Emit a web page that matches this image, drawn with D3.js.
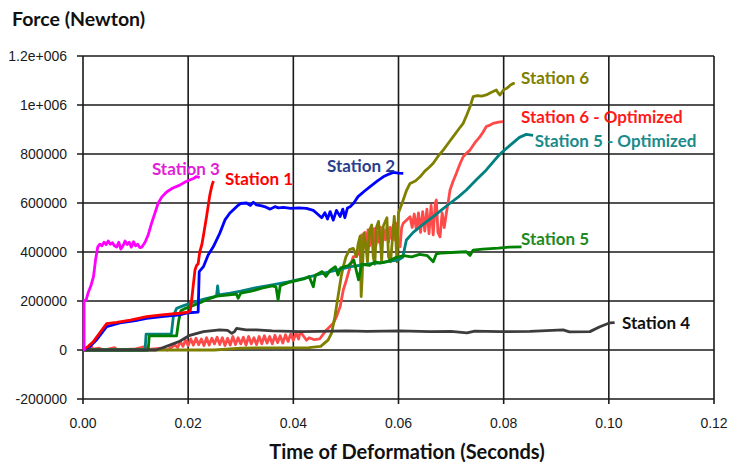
<!DOCTYPE html>
<html>
<head>
<meta charset="utf-8">
<script src="https://cdn.jsdelivr.net/npm/d3@7"></script>
<style>
  body { margin: 0; background: #fff; }
  svg { display: block; }
</style>
</head>
<body>
<div id="chart"></div>
<script>
// tick values / labels
var xTicks = [0, 0.02, 0.04, 0.06, 0.08, 0.10, 0.12]
var xTickLabels = ["0.00", "0.02", "0.04", "0.06", "0.08", "0.10", "0.12"]
var yTicks = [-200000, 0, 200000, 400000, 600000, 800000, 1000000, 1200000]
var yTickLabels = ["-200000", "0", "200000", "400000", "600000", "800000", "1e+006", "1.2e+006"]

// series, [time (s), force (N)]
var station3 = [[0,0],[0.0002,0],[0.0002,200000],[0.0006,205000],[0.0010,235000],[0.0015,262000],[0.0020,300000],[0.0024,370000],[0.0028,420000],[0.0032,432000],[0.0036,425000],[0.0040,440000],[0.0044,430000],[0.0048,445000],[0.0052,432000],[0.0056,438000],[0.0060,425000],[0.0064,420000],[0.0068,440000],[0.0072,412000],[0.0076,425000],[0.0080,445000],[0.0084,430000],[0.0088,440000],[0.0092,420000],[0.0096,442000],[0.0100,425000],[0.0104,432000],[0.0108,418000],[0.0112,420000],[0.0118,440000],[0.0124,470000],[0.0130,515000],[0.0137,560000],[0.0143,600000],[0.0150,625000],[0.0159,645000],[0.0170,660000],[0.0184,673000],[0.0196,688000],[0.0210,700000],[0.0216,708000],[0.0222,704000]]

var station1 = [[0,0],[0.0010,15000],[0.0020,35000],[0.0032,70000],[0.0045,108000],[0.0064,113000],[0.0090,122000],[0.0121,136000],[0.0150,143000],[0.0184,150000],[0.0200,155000],[0.0204,160000],[0.0207,210000],[0.0210,270000],[0.0213,327000],[0.0216,345000],[0.0219,352000],[0.0222,400000],[0.0226,430000],[0.0230,480000],[0.0235,545000],[0.0241,630000],[0.0245,670000],[0.0248,690000]]

var station2 = [[0,0],[0.0013,14000],[0.0026,42000],[0.0045,95000],[0.0070,111000],[0.0100,120000],[0.0121,129000],[0.0150,136000],[0.0184,143000],[0.0200,152000],[0.0219,155000],[0.0221,320000],[0.0229,340000],[0.0238,388000],[0.0248,422000],[0.0260,476000],[0.0270,531000],[0.0279,558000],[0.0292,585000],[0.0300,598000],[0.0311,600000],[0.0318,590000],[0.0324,603000],[0.0330,592000],[0.0340,588000],[0.0348,583000],[0.0356,575000],[0.0365,585000],[0.0372,580000],[0.0381,582000],[0.0395,578000],[0.0410,580000],[0.0425,578000],[0.0438,570000],[0.0446,555000],[0.0454,540000],[0.0460,560000],[0.0465,535000],[0.0470,565000],[0.0476,530000],[0.0482,570000],[0.0489,545000],[0.0494,575000],[0.0498,540000],[0.0503,580000],[0.0508,585000],[0.0515,600000],[0.0523,626000],[0.0535,648000],[0.0546,667000],[0.0560,690000],[0.0571,707000],[0.0582,718000],[0.0590,725000],[0.0600,722000],[0.0609,721000]]

var station4 = [[0,0],[0.0139,0],[0.0150,8000],[0.0165,20000],[0.0184,36000],[0.0203,60000],[0.0229,75000],[0.0260,82000],[0.0275,80000],[0.0283,68000],[0.0288,75000],[0.0292,88000],[0.0310,82000],[0.0330,82000],[0.0360,78000],[0.0413,75000],[0.0450,76000],[0.0500,78000],[0.0540,76000],[0.0603,78000],[0.0660,75000],[0.0700,76000],[0.0730,70000],[0.0745,77000],[0.0793,75000],[0.0850,76000],[0.0913,82000],[0.0925,74000],[0.0964,75000],[0.0983,95000],[0.0995,105000],[0.1002,111000],[0.1011,112000]]

var station5 = [[0,0],[0.0124,0],[0.0126,58000],[0.0178,58000],[0.0182,120000],[0.0186,160000],[0.0195,170000],[0.0210,182000],[0.0225,195000],[0.0240,210000],[0.0255,220000],[0.0292,228000],[0.0295,211000],[0.0300,232000],[0.0320,240000],[0.0340,252000],[0.0360,262000],[0.0367,258000],[0.0371,204000],[0.0375,262000],[0.0390,275000],[0.0410,285000],[0.0420,290000],[0.0430,300000],[0.0438,258000],[0.0442,305000],[0.0455,320000],[0.0462,300000],[0.0470,325000],[0.0480,340000],[0.0485,306000],[0.0490,335000],[0.0505,345000],[0.0515,367000],[0.0524,286000],[0.0530,350000],[0.0545,345000],[0.0555,360000],[0.0565,355000],[0.0580,362000],[0.0596,378000],[0.0610,385000],[0.0625,380000],[0.0640,390000],[0.0655,385000],[0.0666,360000],[0.0672,392000],[0.0680,395000],[0.0700,398000],[0.0729,401000],[0.0736,386000],[0.0742,408000],[0.0760,412000],[0.0790,416000],[0.0810,420000],[0.0834,421000]]

var station5opt = [[0,0],[0.0118,0],[0.0120,65000],[0.0168,65000],[0.0172,140000],[0.0178,170000],[0.0190,180000],[0.0210,195000],[0.0230,208000],[0.0250,218000],[0.0254,222000],[0.0256,262000],[0.0258,225000],[0.0280,232000],[0.0300,240000],[0.0330,255000],[0.0360,266000],[0.0390,278000],[0.0420,292000],[0.0450,310000],[0.0480,325000],[0.0510,340000],[0.0540,350000],[0.0570,358000],[0.0600,368000],[0.0608,378000],[0.0615,449000],[0.0628,480000],[0.0641,503000],[0.0654,525000],[0.0666,544000],[0.0682,572000],[0.0698,599000],[0.0714,625000],[0.0729,653000],[0.0748,695000],[0.0767,735000],[0.0780,768000],[0.0793,800000],[0.0812,835000],[0.0830,868000],[0.0843,880000],[0.0856,876000]]

var station6 = [[0,0],[0.0250,0],[0.0280,5000],[0.0300,8000],[0.0430,10000],[0.0452,15000],[0.0466,40000],[0.0473,70000],[0.0479,136000],[0.0485,218000],[0.0491,300000],[0.0495,340000],[0.0500,380000],[0.0507,410000],[0.0514,415000],[0.0520,381000],[0.0523,430000],[0.0527,465000],[0.0529,218000],[0.0531,300000],[0.0534,476000],[0.0538,430000],[0.0541,360000],[0.0545,490000],[0.0549,510000],[0.0552,380000],[0.0555,350000],[0.0558,500000],[0.0562,525000],[0.0566,430000],[0.0568,360000],[0.0571,505000],[0.0574,520000],[0.0578,540000],[0.0581,380000],[0.0585,360000],[0.0588,440000],[0.0592,545000],[0.0595,450000],[0.0597,360000],[0.0600,560000],[0.0607,600000],[0.0615,650000],[0.0622,680000],[0.0632,690000],[0.0641,707000],[0.0650,730000],[0.0658,745000],[0.0666,762000],[0.0675,790000],[0.0685,816000],[0.0695,845000],[0.0704,871000],[0.0714,900000],[0.0723,925000],[0.0730,960000],[0.0736,993000],[0.0742,1034000],[0.0750,1038000],[0.0758,1036000],[0.0767,1041000],[0.0775,1050000],[0.0786,1061000],[0.0790,1048000],[0.0793,1041000],[0.0800,1062000],[0.0806,1068000],[0.0812,1080000],[0.0818,1088000],[0.0821,1086000]]

var station6opt = [[0,0],[0.0010,5000],[0.0015,20000],[0.0018,3000],[0.0030,8000],[0.0040,0],[0.0060,10000],[0.0065,0],[0.0100,5000],[0.0120,15000],[0.0125,2000],[0.0150,8000],[0.0160,0],[0.0175,20000],[0.0180,10000],[0.0185,35000],[0.0190,15000],[0.0195,40000],[0.0200,18000],[0.0205,45000],[0.0210,20000],[0.0215,48000],[0.0220,22000],[0.0225,45000],[0.0230,18000],[0.0235,50000],[0.0240,20000],[0.0245,48000],[0.0250,25000],[0.0255,52000],[0.0260,22000],[0.0265,50000],[0.0270,18000],[0.0275,48000],[0.0280,20000],[0.0285,55000],[0.0290,22000],[0.0295,50000],[0.0300,25000],[0.0305,52000],[0.0310,20000],[0.0315,55000],[0.0320,25000],[0.0325,50000],[0.0330,22000],[0.0335,55000],[0.0340,25000],[0.0345,58000],[0.0350,28000],[0.0355,55000],[0.0360,25000],[0.0365,60000],[0.0370,30000],[0.0375,58000],[0.0380,28000],[0.0385,62000],[0.0390,35000],[0.0395,65000],[0.0400,40000],[0.0405,70000],[0.0410,45000],[0.0413,75000],[0.0420,55000],[0.0425,40000],[0.0430,50000],[0.0440,42000],[0.0450,45000],[0.0463,82000],[0.0476,109000],[0.0482,136000],[0.0489,177000],[0.0495,245000],[0.0501,286000],[0.0508,340000],[0.0514,381000],[0.0520,381000],[0.0527,408000],[0.0530,470000],[0.0533,415000],[0.0536,480000],[0.0539,420000],[0.0542,490000],[0.0545,425000],[0.0548,485000],[0.0551,430000],[0.0554,495000],[0.0557,425000],[0.0560,480000],[0.0563,440000],[0.0566,500000],[0.0569,445000],[0.0572,490000],[0.0575,450000],[0.0578,505000],[0.0581,440000],[0.0584,500000],[0.0587,455000],[0.0590,510000],[0.0593,450000],[0.0596,517000],[0.0600,430000],[0.0603,422000],[0.0606,500000],[0.0609,517000],[0.0615,530000],[0.0622,544000],[0.0626,500000],[0.0630,555000],[0.0634,490000],[0.0638,560000],[0.0642,480000],[0.0646,565000],[0.0650,485000],[0.0654,575000],[0.0658,475000],[0.0662,590000],[0.0666,470000],[0.0670,600000],[0.0672,612000],[0.0675,480000],[0.0679,462000],[0.0683,560000],[0.0687,500000],[0.0691,558000],[0.0695,610000],[0.0698,653000],[0.0704,690000],[0.0710,721000],[0.0717,760000],[0.0723,789000],[0.0730,805000],[0.0736,816000],[0.0745,845000],[0.0755,871000],[0.0761,890000],[0.0767,912000],[0.0774,918000],[0.0780,925000],[0.0790,930000],[0.0799,932000]]

// line labels: text and anchor in data units
var labelNames = ["Station 3", "Station 1", "Station 2", "Station 6", "Station 6 - Optimized", "Station 5 - Optimized", "Station 5", "Station 4"]
var labelTimes = [0.0131, 0.0270, 0.0464, 0.0833, 0.0833, 0.0859, 0.0833, 0.1025]
var labelForces = [714000, 673000, 727000, 1086000, 928000, 828000, 429000, 86000]

var series = [
  {data: station6opt, color: "#ff4a4a"},
  {data: station6, color: "#808000"},
  {data: station5opt, color: "#008080"},
  {data: station5, color: "#008000"},
  {data: station4, color: "#3c3c3c"},
  {data: station2, color: "#0000ff"},
  {data: station1, color: "#ff0000"},
  {data: station3, color: "#ff00ff"}
]
var labelColors = ["#e01fd6", "#ff0000", "#2a3f8c", "#808000", "#ff1a1a", "#1a8a8a", "#1f8a1f", "#111111"]

var W = 730, H = 464
var svg = d3.select("#chart").append("svg")
    .attr("width", W)
    .attr("height", H)

var x = d3.scaleLinear().domain([0, 0.12]).range([83, 714])
var y = d3.scaleLinear().domain([-200000, 1200000]).range([399, 56])

// grid
svg.append("g")
  .selectAll("line")
  .data(yTicks)
  .enter().append("line")
    .attr("x1", x(0) - 6).attr("x2", x(0.12))
    .attr("y1", function(d) { return y(d) }).attr("y2", function(d) { return y(d) })
    .attr("stroke", "#1a1a1a").attr("stroke-width", 1.6)

svg.append("g")
  .selectAll("line")
  .data(xTicks)
  .enter().append("line")
    .attr("x1", function(d) { return x(d) }).attr("x2", function(d) { return x(d) })
    .attr("y1", y(1200000)).attr("y2", y(-200000) + 5)
    .attr("stroke", "#1a1a1a").attr("stroke-width", 1.6)

// tick labels
svg.append("g")
  .selectAll("text")
  .data(yTicks)
  .enter().append("text")
    .attr("x", 67)
    .attr("y", function(d) { return y(d) + 5 })
    .attr("text-anchor", "end")
    .style("font-family", "'Liberation Sans', Arial, sans-serif")
    .style("font-size", "14px")
    .style("fill", "#1a1a1a")
    .text(function(d, i) { return yTickLabels[i] })

svg.append("g")
  .selectAll("text")
  .data(xTicks)
  .enter().append("text")
    .attr("x", function(d) { return x(d) })
    .attr("y", 428)
    .attr("text-anchor", "middle")
    .style("font-family", "'Liberation Sans', Arial, sans-serif")
    .style("font-size", "14px")
    .style("fill", "#1a1a1a")
    .text(function(d, i) { return xTickLabels[i] })

// lines
var line = d3.line()
    .x(function(d) { return x(d[0]) })
    .y(function(d) { return y(d[1]) })

svg.append("g")
  .selectAll("path")
  .data(series)
  .enter().append("path")
    .attr("d", function(d) { return line(d.data) })
    .attr("fill", "none")
    .attr("stroke", function(d) { return d.color })
    .attr("stroke-width", 2.8)
    .attr("stroke-linejoin", "round")

// line labels
svg.append("g")
  .selectAll("text")
  .data(labelNames)
  .enter().append("text")
    .attr("x", function(d, i) { return x(labelTimes[i]) })
    .attr("y", function(d, i) { return y(labelForces[i]) })
    .style("font-family", "Lato, 'Open Sans', sans-serif")
    .style("font-weight", "bold")
    .style("font-size", "17px")
    .style("fill", function(d, i) { return labelColors[i] })
    .text(function(d) { return d })

// axis titles
svg.append("text")
    .attr("x", 12)
    .attr("y", 26)
    .style("font-family", "Lato, 'Open Sans', sans-serif")
    .style("font-weight", "bold")
    .style("font-size", "19.5px")
    .style("fill", "#111")
    .text("Force (Newton)")

svg.append("text")
    .attr("x", 407)
    .attr("y", 459)
    .attr("text-anchor", "middle")
    .style("font-family", "Lato, 'Open Sans', sans-serif")
    .style("font-weight", "bold")
    .style("font-size", "20px")
    .style("fill", "#111")
    .text("Time of Deformation (Seconds)")
</script>
</body>
</html>
